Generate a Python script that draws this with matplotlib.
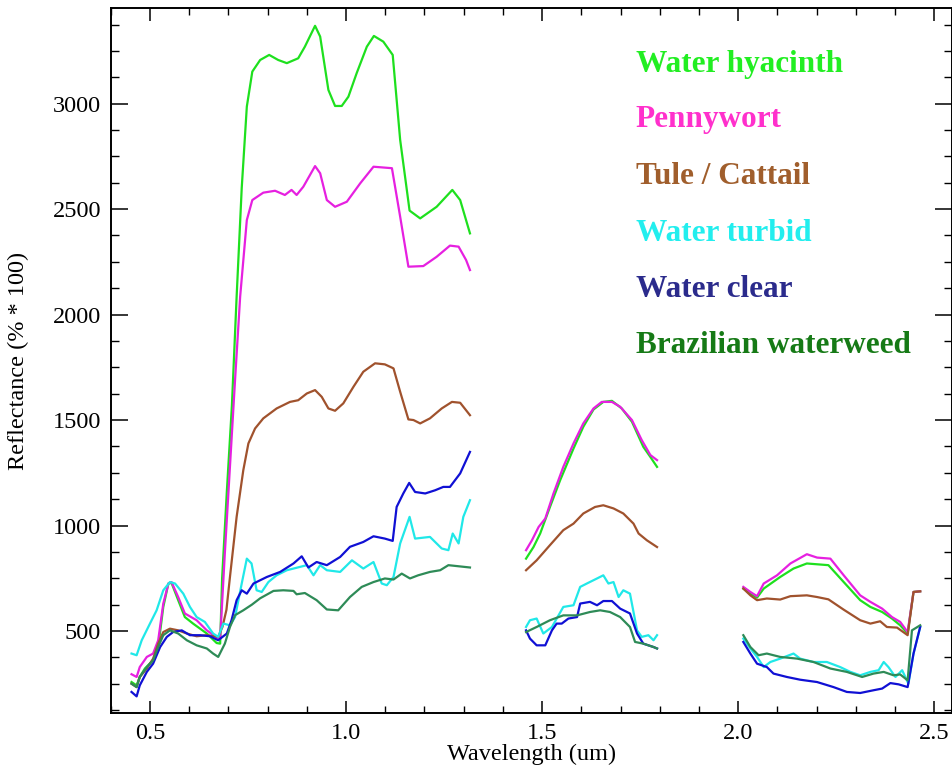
import numpy as np
import matplotlib
matplotlib.use("Agg")
import matplotlib.pyplot as plt
from matplotlib.ticker import MultipleLocator

plt.rcParams['font.family'] = 'serif'
plt.rcParams['font.serif'] = ['Liberation Serif', 'DejaVu Serif']

# === DATA ===
names = ["Water hyacinth", "Pennywort", "Tule / Cattail",
         "Water turbid", "Water clear", "Brazilian waterweed"]

# Water hyacinth
hyacinth_wl1 = [0.453, 0.466, 0.474, 0.487, 0.508, 0.521, 0.534, 0.547, 0.555, 0.572, 0.589, 0.610,
                0.645, 0.670, 0.679, 0.684, 0.696, 0.709, 0.721, 0.734, 0.747, 0.761, 0.781, 0.804,
                0.827, 0.849, 0.878, 0.895, 0.921, 0.934, 0.955, 0.972, 0.989, 1.006, 1.027, 1.053,
                1.071, 1.095, 1.119, 1.138, 1.162, 1.189, 1.231, 1.271, 1.291, 1.316]
hyacinth_r1 = [258, 242, 282, 322, 361, 424, 614, 725, 728, 646, 566, 535,
               488, 443, 440, 750, 1160, 1570, 2085, 2600, 2986, 3152, 3207, 3231,
               3207, 3192, 3215, 3270, 3369, 3318, 3065, 2989, 2989, 3033, 3144, 3270,
               3321, 3294, 3231, 2828, 2493, 2456, 2511, 2591, 2543, 2385]
hyacinth_wl2 = [1.459, 1.478, 1.495, 1.520, 1.546, 1.580, 1.605, 1.631, 1.656, 1.678, 1.703,
                1.729, 1.758, 1.776, 1.793]
hyacinth_r2 = [843, 898, 962, 1088, 1215, 1365, 1468, 1550, 1586, 1591, 1555,
               1492, 1373, 1325, 1278]
hyacinth_wl3 = [2.013, 2.031, 2.048, 2.065, 2.107, 2.141, 2.175, 2.230, 2.269, 2.311, 2.337,
                2.367, 2.392, 2.413, 2.432, 2.447, 2.464]
hyacinth_r3 = [701, 677, 658, 701, 756, 796, 820, 812, 732, 646, 614,
               590, 559, 527, 488, 685, 688]

# Pennywort
penny_wl1 = [0.453, 0.466, 0.474, 0.492, 0.508, 0.521, 0.534, 0.547, 0.555, 0.572, 0.589, 0.619,
             0.645, 0.674, 0.679, 0.691, 0.704, 0.717, 0.730, 0.747, 0.761, 0.789, 0.819, 0.844,
             0.861, 0.874, 0.891, 0.921, 0.934, 0.951, 0.972, 1.002, 1.036, 1.070, 1.117, 1.138,
             1.159, 1.197, 1.231, 1.265, 1.287, 1.306, 1.316]
penny_r1 = [295, 282, 329, 377, 393, 456, 630, 725, 732, 661, 583, 551,
            503, 464, 464, 870, 1280, 1690, 2085, 2448, 2543, 2578, 2587, 2567,
            2591, 2567, 2606, 2704, 2670, 2543, 2511, 2535, 2622, 2701, 2694, 2464,
            2227, 2230, 2274, 2327, 2322, 2259, 2211]
penny_wl2 = [1.459, 1.474, 1.491, 1.508, 1.529, 1.554, 1.580, 1.605, 1.631, 1.652, 1.678,
             1.699, 1.729, 1.754, 1.776, 1.793]
penny_r2 = [883, 930, 993, 1033, 1152, 1278, 1389, 1484, 1555, 1586, 1586,
            1563, 1500, 1405, 1334, 1310]
penny_wl3 = [2.013, 2.031, 2.048, 2.065, 2.099, 2.133, 2.175, 2.201, 2.235, 2.269, 2.311,
             2.337, 2.367, 2.392, 2.413, 2.432, 2.447, 2.464]
penny_r3 = [709, 685, 665, 725, 764, 820, 864, 848, 843, 764, 669,
            638, 606, 566, 543, 495, 685, 688]

# Tule / Cattail
tule_wl1 = [0.453, 0.466, 0.474, 0.492, 0.508, 0.521, 0.534, 0.551, 0.572, 0.594, 0.619, 0.645,
            0.674, 0.685, 0.695, 0.704, 0.721, 0.738, 0.751, 0.768, 0.789, 0.823, 0.857, 0.878,
            0.900, 0.921, 0.938, 0.955, 0.972, 0.993, 1.019, 1.044, 1.074, 1.099, 1.121, 1.138,
            1.159, 1.172, 1.189, 1.214, 1.244, 1.270, 1.291, 1.316]
tule_r1 = [250, 234, 282, 322, 369, 440, 495, 511, 503, 488, 475, 480,
           472, 520, 600, 756, 1041, 1262, 1389, 1460, 1508, 1555, 1586, 1594,
           1626, 1642, 1610, 1555, 1544, 1579, 1658, 1729, 1769, 1764, 1745, 1634,
           1503, 1500, 1484, 1508, 1555, 1586, 1582, 1523]
tule_wl2 = [1.459, 1.486, 1.520, 1.554, 1.580, 1.605, 1.635, 1.656, 1.682, 1.707, 1.733,
            1.746, 1.767, 1.793]
tule_r2 = [788, 835, 907, 978, 1009, 1057, 1088, 1096, 1081, 1057, 1009,
           962, 930, 898]
tule_wl3 = [2.013, 2.031, 2.048, 2.073, 2.107, 2.133, 2.175, 2.201, 2.230, 2.269, 2.311,
            2.337, 2.362, 2.379, 2.405, 2.432, 2.447, 2.464]
tule_r3 = [701, 669, 646, 654, 649, 665, 669, 661, 650, 601, 551,
           535, 546, 519, 516, 480, 685, 688]

# Water turbid
turbid_wl1 = [0.453, 0.466, 0.479, 0.500, 0.517, 0.534, 0.551, 0.564, 0.585, 0.602, 0.619, 0.640,
              0.661, 0.674, 0.687, 0.704, 0.717, 0.734, 0.747, 0.759, 0.772, 0.785, 0.802, 0.823,
              0.849, 0.883, 0.900, 0.917, 0.934, 0.951, 0.985, 1.015, 1.044, 1.070, 1.091, 1.104,
              1.121, 1.138, 1.162, 1.176, 1.214, 1.244, 1.261, 1.272, 1.287, 1.299, 1.316]
turbid_r1 = [393, 385, 456, 535, 598, 693, 732, 725, 677, 614, 566, 543,
             488, 472, 535, 527, 566, 725, 843, 820, 693, 685, 732, 764,
             788, 804, 812, 764, 812, 788, 780, 835, 796, 827, 725, 717,
             756, 915, 1041, 938, 946, 891, 883, 962, 915, 1041, 1120]
turbid_wl2 = [1.459, 1.469, 1.486, 1.503, 1.525, 1.554, 1.580, 1.597, 1.614, 1.640, 1.656,
              1.669, 1.682, 1.695, 1.707, 1.724, 1.742, 1.754, 1.771, 1.784, 1.793]
turbid_r2 = [519, 551, 559, 488, 519, 614, 622, 709, 725, 749, 764,
             725, 732, 661, 693, 677, 503, 472, 480, 456, 480]
turbid_wl3 = [2.013, 2.031, 2.048, 2.065, 2.082, 2.107, 2.141, 2.158, 2.192, 2.226, 2.260,
              2.286, 2.311, 2.337, 2.358, 2.371, 2.383, 2.401, 2.418, 2.434, 2.447, 2.464]
turbid_r3 = [464, 417, 377, 329, 353, 369, 393, 369, 353, 353, 329,
             306, 290, 306, 314, 353, 329, 282, 314, 250, 393, 519]

# Water clear
clear_wl1 = [0.453, 0.466, 0.474, 0.492, 0.508, 0.526, 0.543, 0.559, 0.581, 0.602, 0.628, 0.653,
             0.674, 0.696, 0.708, 0.721, 0.734, 0.747, 0.764, 0.798, 0.832, 0.866, 0.887, 0.904,
             0.925, 0.951, 0.985, 1.010, 1.044, 1.070, 1.099, 1.119, 1.129, 1.146, 1.161, 1.176,
             1.202, 1.227, 1.248, 1.265, 1.291, 1.316]
clear_r1 = [211, 190, 242, 306, 345, 424, 472, 495, 503, 480, 480, 475,
            456, 488, 551, 646, 693, 677, 725, 756, 780, 820, 854, 801,
            827, 812, 851, 899, 922, 949, 938, 927, 1088, 1152, 1202, 1159,
            1152, 1167, 1183, 1183, 1247, 1349]
clear_wl2 = [1.459, 1.469, 1.486, 1.508, 1.525, 1.537, 1.550, 1.567, 1.589, 1.597, 1.622,
             1.640, 1.656, 1.678, 1.699, 1.724, 1.742, 1.758, 1.784, 1.793]
clear_r2 = [503, 464, 432, 432, 503, 535, 535, 559, 566, 630, 638,
            622, 642, 642, 606, 583, 488, 440, 424, 417]
clear_wl3 = [2.013, 2.031, 2.048, 2.073, 2.090, 2.124, 2.158, 2.201, 2.243, 2.277, 2.311,
             2.345, 2.367, 2.388, 2.409, 2.432, 2.447, 2.464]
clear_r3 = [448, 393, 345, 329, 298, 282, 269, 258, 234, 211, 206,
            219, 227, 253, 247, 234, 393, 519]

# Brazilian waterweed
brazil_wl1 = [0.453, 0.466, 0.474, 0.492, 0.508, 0.521, 0.534, 0.551, 0.572, 0.594, 0.619, 0.645,
              0.661, 0.674, 0.691, 0.704, 0.717, 0.738, 0.760, 0.781, 0.815, 0.840, 0.866, 0.874,
              0.895, 0.925, 0.951, 0.980, 1.010, 1.040, 1.070, 1.099, 1.121, 1.142, 1.163, 1.184,
              1.214, 1.240, 1.261, 1.286, 1.316]
brazil_r1 = [250, 234, 282, 329, 361, 424, 480, 503, 488, 456, 432, 417,
             393, 377, 440, 519, 575, 598, 625, 655, 690, 693, 690, 674,
             680, 646, 602, 598, 661, 709, 732, 749, 744, 772, 749, 764,
             780, 788, 812, 807, 801]
brazil_wl2 = [1.459, 1.486, 1.520, 1.554, 1.589, 1.622, 1.648, 1.673, 1.699, 1.724, 1.737,
              1.758, 1.784, 1.793]
brazil_r2 = [495, 519, 551, 574, 574, 590, 598, 590, 566, 519, 448,
             440, 424, 417]
brazil_wl3 = [2.013, 2.031, 2.052, 2.073, 2.107, 2.150, 2.192, 2.235, 2.277, 2.316, 2.345,
              2.371, 2.396, 2.413, 2.432, 2.443, 2.464]
brazil_r3 = [480, 424, 385, 393, 377, 369, 353, 322, 306, 282, 298,
             306, 290, 294, 266, 503, 527]

line_colors = ['#1ee01e', '#e620e0', '#a0522d', '#20e8e8', '#1010d4', '#2e8b57']
text_colors = ['#22ee22', '#ff30cc', '#a05e2c', '#22eeee', '#2b2b8c', '#167a16']

wl_segments = [
    (hyacinth_wl1, hyacinth_wl2, hyacinth_wl3),
    (penny_wl1, penny_wl2, penny_wl3),
    (tule_wl1, tule_wl2, tule_wl3),
    (turbid_wl1, turbid_wl2, turbid_wl3),
    (clear_wl1, clear_wl2, clear_wl3),
    (brazil_wl1, brazil_wl2, brazil_wl3),
]
refl_segments = [
    (hyacinth_r1, hyacinth_r2, hyacinth_r3),
    (penny_r1, penny_r2, penny_r3),
    (tule_r1, tule_r2, tule_r3),
    (turbid_r1, turbid_r2, turbid_r3),
    (clear_r1, clear_r2, clear_r3),
    (brazil_r1, brazil_r2, brazil_r3),
]

# === PLOTTING ===
fig = plt.figure(figsize=(9.53, 7.69), dpi=100)
ax = fig.add_axes([0.1162, 0.0725, 0.8827, 0.9167])

for i in range(len(names)):
    for wl, r in zip(wl_segments[i], refl_segments[i]):
        ax.plot(wl, r, color=line_colors[i], lw=1.6)

ax.set_xlim(0.40, 2.545)
ax.set_ylim(110, 3452)

ax.xaxis.set_minor_locator(MultipleLocator(0.1))
ax.yaxis.set_minor_locator(MultipleLocator(125))
ax.set_xticks([0.5, 1.0, 1.5, 2.0, 2.5])
ax.set_xticklabels(["0.5", "1.0", "1.5", "2.0", "2.5"])
ax.set_yticks([500, 1000, 1500, 2000, 2500, 3000])

ax.tick_params(axis='x', which='major', direction='in', top=True, length=9, width=1.1,
               labelsize=17.5, pad=7)
ax.tick_params(axis='x', which='minor', direction='in', top=True, length=5, width=1.0)
ax.tick_params(axis='y', which='major', direction='in', right=True, length=12, width=1.1,
               labelsize=17.5, pad=7)
ax.tick_params(axis='y', which='minor', direction='in', right=True, length=6, width=1.0)
for sp in ax.spines.values():
    sp.set_linewidth(1.4)

ax.set_xlabel("Wavelength (um)", fontsize=17.5)
ax.set_ylabel("Reflectance (% * 100)", fontsize=17.5)
ax.xaxis.set_label_coords(0.50, -0.043)
ax.yaxis.set_label_coords(-0.097, 0.5)

# coloured text labels instead of a legend box
label_y = [0.910, 0.832, 0.751, 0.670, 0.591, 0.511]
for i, name in enumerate(names):
    ax.text(0.624, label_y[i], name, transform=ax.transAxes, color=text_colors[i],
            fontsize=22.5, fontweight='bold', va='baseline', ha='left')

fig.savefig("out.png", dpi=100)
